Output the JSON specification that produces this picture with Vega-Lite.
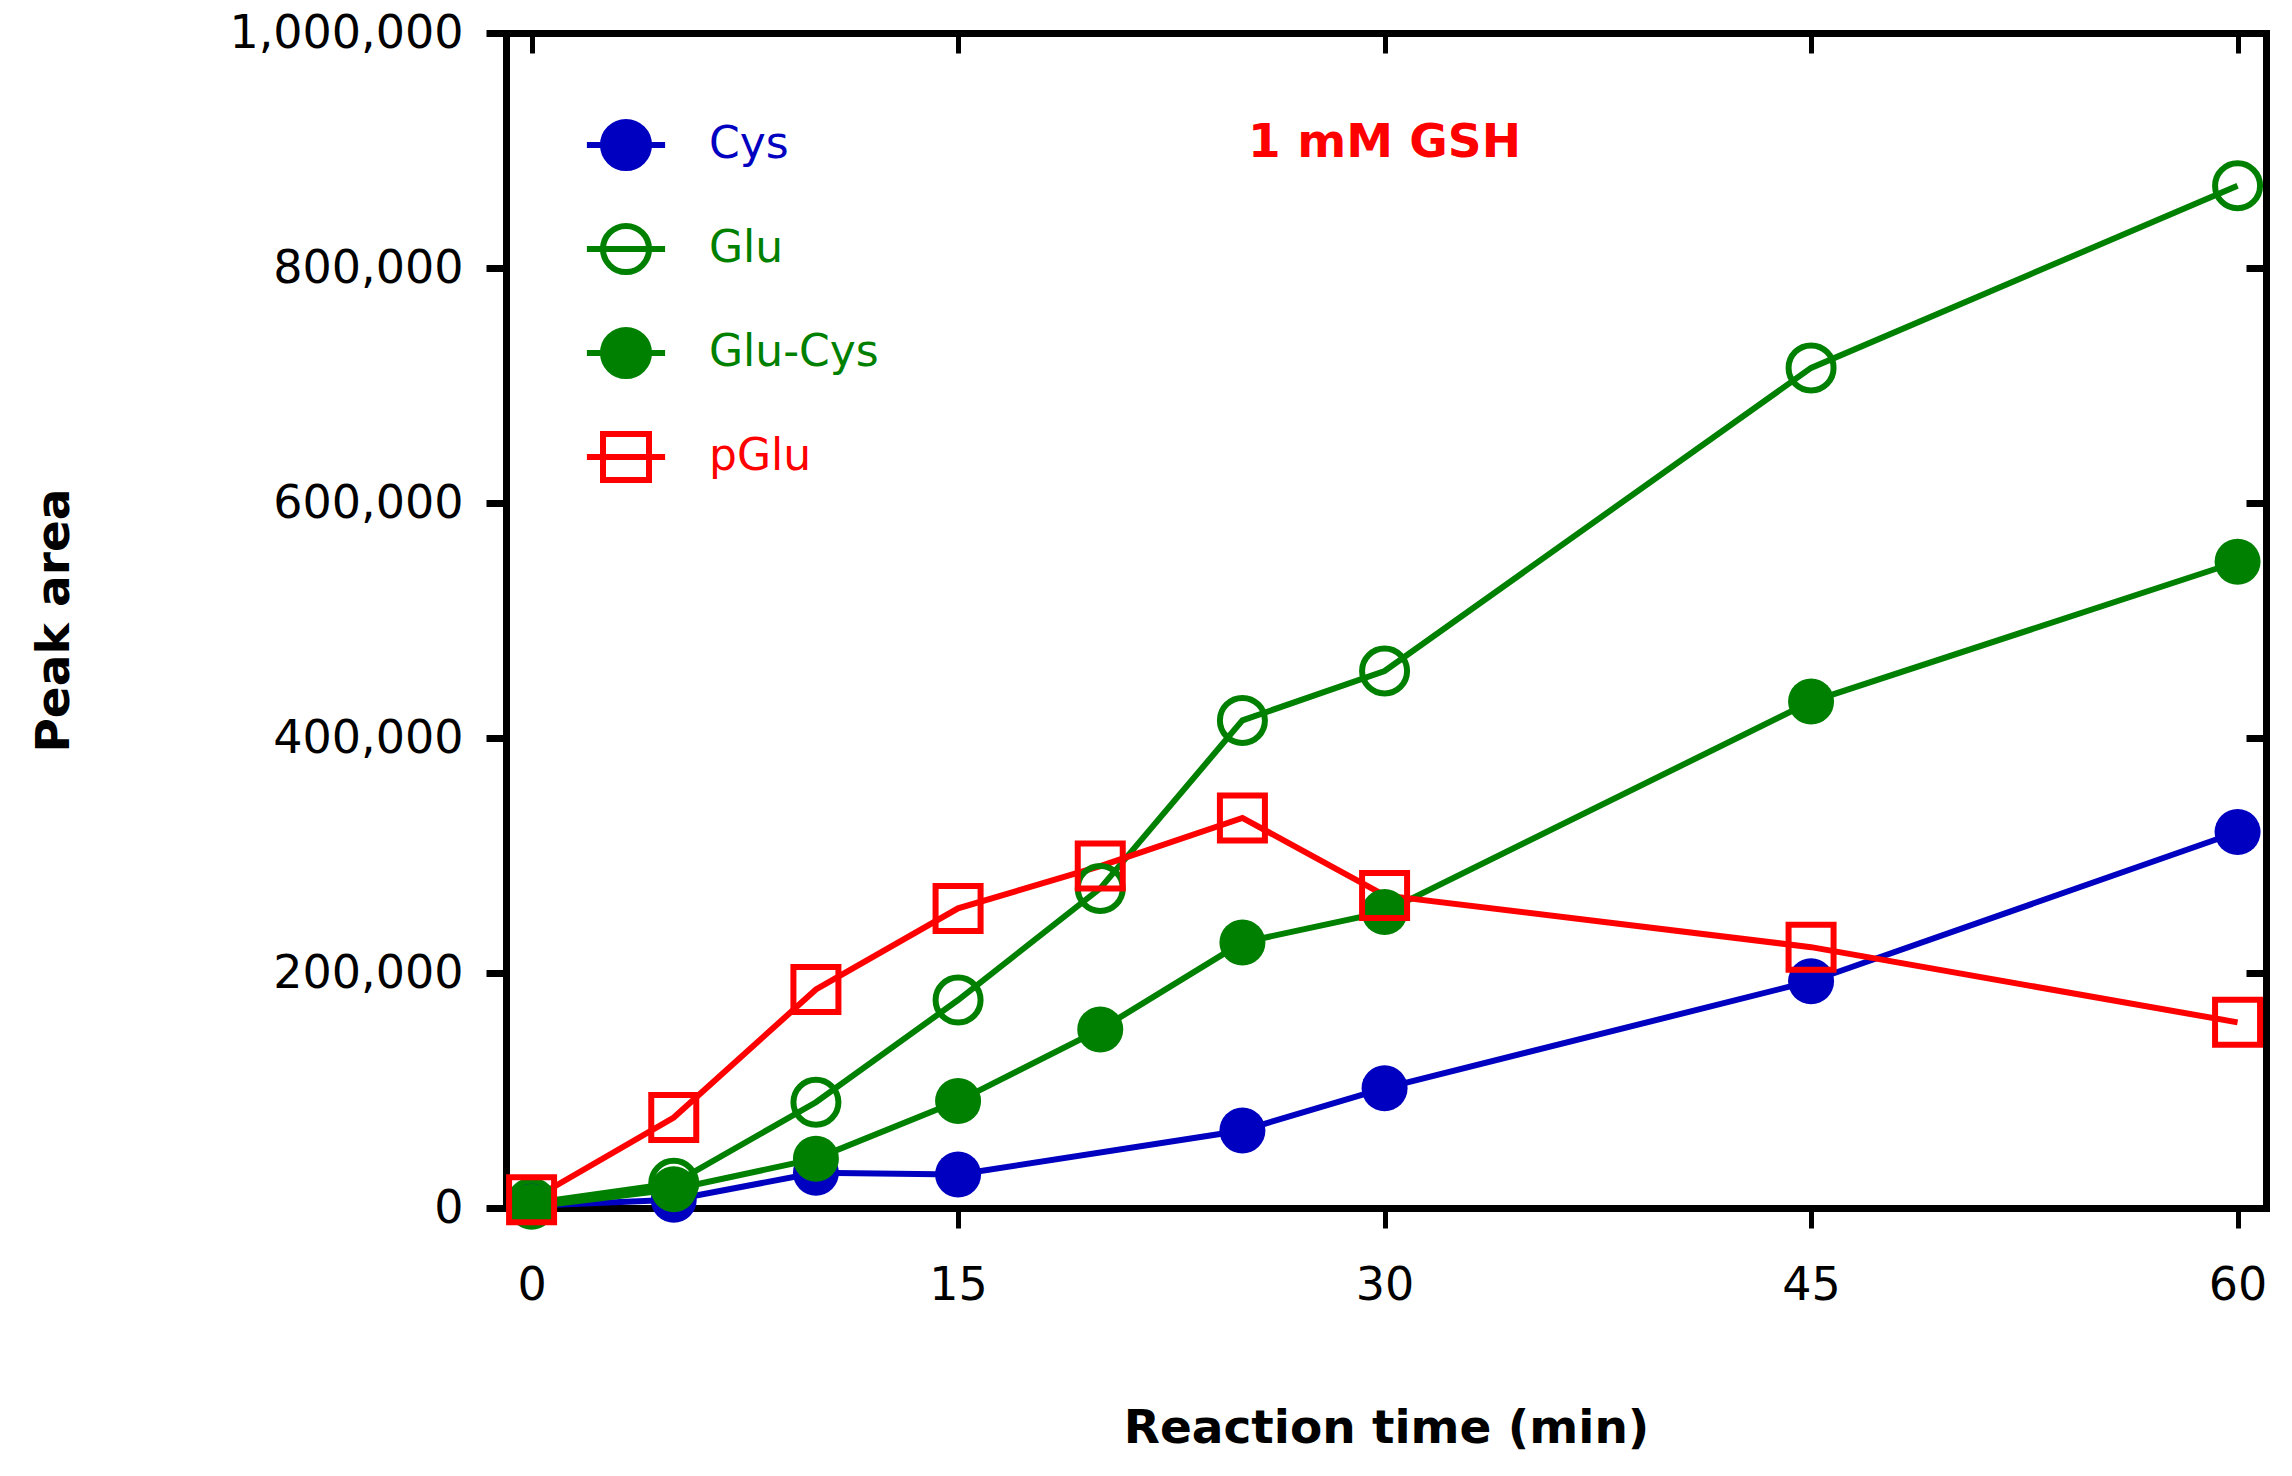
{
  "$schema": "https://vega.github.io/schema/vega-lite/v6.json",
  "width": 1760,
  "height": 1175,
  "padding": {"left": 506, "top": 33, "right": 26, "bottom": 268},
  "autosize": {"type": "none"},
  "background": "white",
  "config": {
    "view": {"stroke": null},
    "font": "DejaVu Sans",
    "axis": {
      "grid": false,
      "domainColor": "black",
      "domainWidth": 7,
      "domainCap": "square",
      "tickColor": "black",
      "tickWidth": 6,
      "tickSize": 20,
      "labelFont": "DejaVu Sans",
      "labelFontSize": 46,
      "labelColor": "black",
      "labelLimit": 600,
      "titleFont": "DejaVu Sans",
      "titleFontSize": 47,
      "titleFontWeight": "bold",
      "titleColor": "black",
      "titleLimit": 1500
    }
  },
  "datasets": {
    "series": [
      {"t": 0, "series": "Cys", "v": 2000},
      {"t": 5, "series": "Cys", "v": 7000},
      {"t": 10, "series": "Cys", "v": 30000},
      {"t": 15, "series": "Cys", "v": 28500},
      {"t": 25, "series": "Cys", "v": 66000},
      {"t": 30, "series": "Cys", "v": 102000},
      {"t": 45, "series": "Cys", "v": 193000},
      {"t": 60, "series": "Cys", "v": 320000},
      {"t": 0, "series": "Glu", "v": 4000},
      {"t": 5, "series": "Glu", "v": 21000},
      {"t": 10, "series": "Glu", "v": 90000},
      {"t": 15, "series": "Glu", "v": 177000},
      {"t": 20, "series": "Glu", "v": 272000},
      {"t": 25, "series": "Glu", "v": 415000},
      {"t": 30, "series": "Glu", "v": 457000},
      {"t": 45, "series": "Glu", "v": 715000},
      {"t": 60, "series": "Glu", "v": 870000},
      {"t": 0, "series": "Glu-Cys", "v": 1000},
      {"t": 5, "series": "Glu-Cys", "v": 16000},
      {"t": 10, "series": "Glu-Cys", "v": 42000},
      {"t": 15, "series": "Glu-Cys", "v": 91000},
      {"t": 20, "series": "Glu-Cys", "v": 152000},
      {"t": 25, "series": "Glu-Cys", "v": 226000},
      {"t": 30, "series": "Glu-Cys", "v": 252000},
      {"t": 45, "series": "Glu-Cys", "v": 431000},
      {"t": 60, "series": "Glu-Cys", "v": 550000},
      {"t": 0, "series": "pGlu", "v": 7000},
      {"t": 5, "series": "pGlu", "v": 77000},
      {"t": 10, "series": "pGlu", "v": 186000},
      {"t": 15, "series": "pGlu", "v": 255000},
      {"t": 20, "series": "pGlu", "v": 291000},
      {"t": 25, "series": "pGlu", "v": 332000},
      {"t": 30, "series": "pGlu", "v": 266000},
      {"t": 45, "series": "pGlu", "v": 222000},
      {"t": 60, "series": "pGlu", "v": 158000}
    ],
    "note": [{"t": 30, "v": 906000, "label": "1 mM GSH"}]
  },
  "data": {"name": "series"},
  "resolve": {"axis": {"x": "independent", "y": "independent"}},
  "layer": [
    {
      "mark": {"type": "line", "strokeWidth": 6},
      "encoding": {
        "x": {
          "field": "t", "type": "quantitative",
          "scale": {"domain": [-0.9, 61], "nice": false, "zero": false},
          "axis": {
            "orient": "bottom", "values": [0, 15, 30, 45, 60],
            "title": "Reaction time (min)", "labelPadding": 35,
            "titleBaseline": "alphabetic", "titleY": 234, "tickWidth": 5
          }
        },
        "y": {
          "field": "v", "type": "quantitative",
          "scale": {"domain": [0, 1000000], "nice": false},
          "axis": {
            "orient": "left", "values": [0, 200000, 400000, 600000, 800000, 1000000],
            "format": ",d", "title": "Peak area", "labelPadding": 23,
            "titleBaseline": "alphabetic", "titleX": -438, "titleY": 587, "tickWidth": 7
          }
        },
        "color": {
          "field": "series", "type": "nominal",
          "scale": {"domain": ["Cys", "Glu", "Glu-Cys", "pGlu"], "range": ["#0000C0", "#008000", "#008000", "#FF0000"]},
          "legend": {
            "title": null,
            "orient": "none",
            "legendX": 94,
            "legendY": 86,
            "padding": 0,
            "symbolSize": 2116,
            "symbolStrokeWidth": 6,
            "labelFontSize": 44,
            "labelFont": "DejaVu Sans",
            "labelOffset": 57,
            "rowPadding": 34,
            "labelLimit": 400,
            "encode": {
              "symbols": {
                "update": {
                  "shape": {"signal": "datum.value === 'pGlu' ? 'M-1.7,0H1.7M-1,-1H1V1H-1Z' : 'M-1.7,0H1.7M1,0A1,1,0,1,1,-1,0A1,1,0,1,1,1,0Z'"},
                  "fillOpacity": {"signal": "(datum.value === 'Glu' || datum.value === 'pGlu') ? 0 : 1"},
                  "strokeWidth": {"value": 6},
                  "opacity": {"value": 1}
                }
              },
              "labels": {
                "update": {
                  "fill": {"signal": "scale('color', datum.value)"}
                }
              }
            }
          }
        },
        "order": {"field": "t", "type": "quantitative"}
      }
    },
    {
      "transform": [{"filter": "datum.series === 'Cys' || datum.series === 'Glu-Cys'"}],
      "mark": {"type": "point", "filled": true, "shape": "circle", "size": 2116, "opacity": 1},
      "encoding": {
        "x": {
          "field": "t", "type": "quantitative",
          "axis": {"orient": "top", "values": [0, 15, 30, 45, 60], "labels": false, "title": null, "tickSize": -20, "tickWidth": 5}
        },
        "y": {
          "field": "v", "type": "quantitative",
          "axis": {"orient": "right", "values": [0, 200000, 400000, 600000, 800000, 1000000], "labels": false, "title": null, "tickSize": -20, "tickWidth": 7}
        },
        "color": {"field": "series", "type": "nominal", "legend": null}
      }
    },
    {
      "transform": [{"filter": "datum.series === 'Glu' || datum.series === 'pGlu'"}],
      "mark": {"type": "point", "filled": false, "size": 2025, "strokeWidth": 6, "opacity": 1},
      "encoding": {
        "x": {"field": "t", "type": "quantitative", "axis": null},
        "y": {"field": "v", "type": "quantitative", "axis": null},
        "color": {"field": "series", "type": "nominal", "legend": null},
        "shape": {
          "field": "series", "type": "nominal",
          "scale": {"domain": ["Glu", "pGlu"], "range": ["circle", "square"]},
          "legend": null
        }
      }
    },
    {
      "data": {"name": "note"},
      "mark": {"type": "text", "color": "#FF0000", "fontSize": 47, "fontWeight": "bold", "font": "DejaVu Sans", "baseline": "middle", "align": "center"},
      "encoding": {
        "x": {"field": "t", "type": "quantitative", "axis": null},
        "y": {"field": "v", "type": "quantitative", "axis": null},
        "text": {"field": "label"}
      }
    }
  ]
}
